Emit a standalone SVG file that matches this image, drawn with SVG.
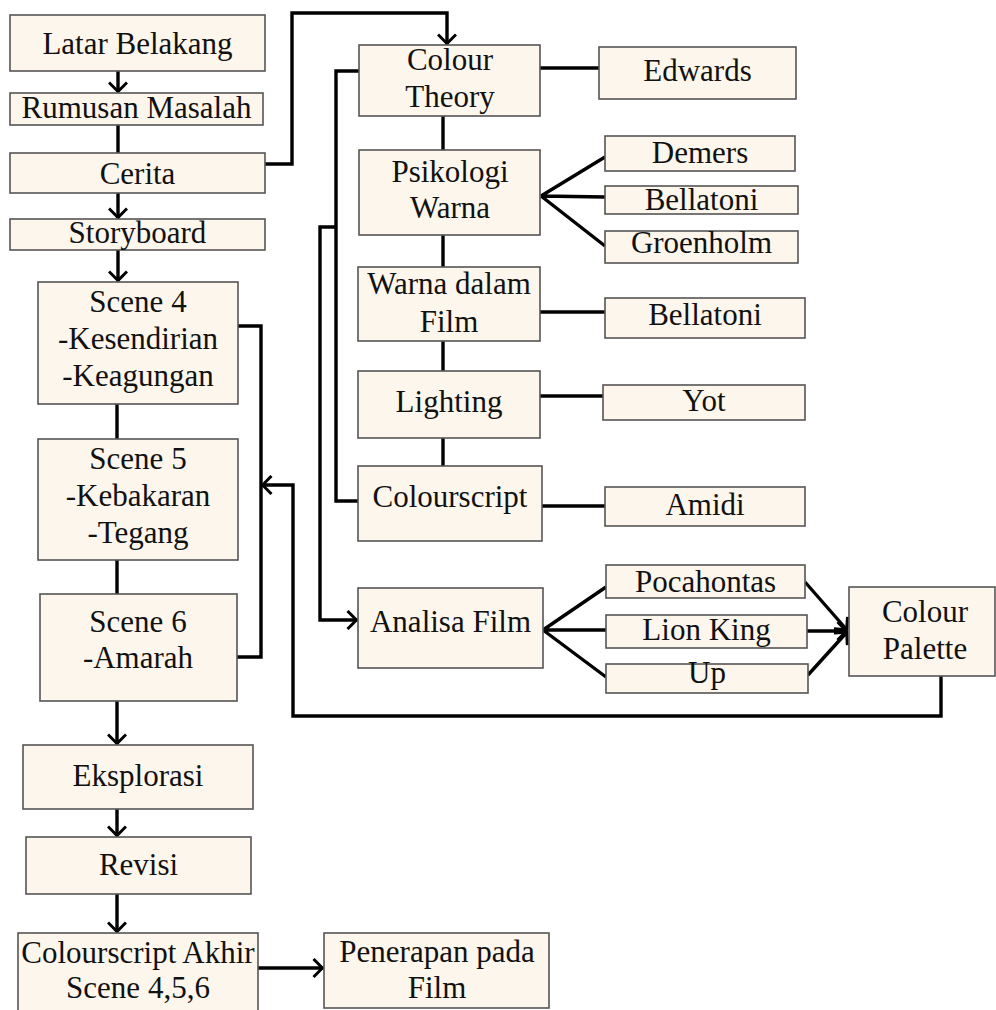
<svg xmlns="http://www.w3.org/2000/svg" width="996" height="1010" viewBox="0 0 996 1010">
<style>
.box{fill:#fdf6ec;stroke:#555;stroke-width:1.6}
.t{font-family:"Liberation Serif","Times New Roman",serif;font-size:31px;fill:#111;text-anchor:middle}
.c{fill:none;stroke:#000;stroke-width:3.4;stroke-linejoin:miter}
.a{marker-end:url(#arr)}
</style>
<defs>
<marker id="arr" viewBox="0 0 12 20" refX="11" refY="10" markerWidth="12" markerHeight="20" markerUnits="userSpaceOnUse" orient="auto">
<path d="M1.5,1 L10.5,10 L1.5,19" fill="none" stroke="#000" stroke-width="3"/>
</marker>
</defs>
<rect width="996" height="1010" fill="#fff"/>
<g id="connectors">
<path class="c a" d="M118,71 V92"/>
<path class="c" d="M118,125 V153"/>
<path class="c a" d="M118,193 V218"/>
<path class="c a" d="M118,250 V281"/>
<path class="c" d="M117,404 V439"/>
<path class="c" d="M117,560 V594"/>
<path class="c a" d="M117,701 V744"/>
<path class="c a" d="M117,809 V836"/>
<path class="c a" d="M117,894 V932"/>
<path class="c a" d="M258,968 H323"/>
<path class="c a" d="M265,164 H292 V13 H447 V44"/>
<path class="c" d="M540,68 H599"/>
<path class="c" d="M443,116 V150"/>
<path class="c" d="M541,196 L605,157 M541,196 L605,197 M541,196 L605,246"/>
<path class="c" d="M443,235 V267"/>
<path class="c" d="M540,312 H605"/>
<path class="c" d="M443,341 V371"/>
<path class="c" d="M540,396 H603"/>
<path class="c" d="M443,438 V466"/>
<path class="c" d="M542,506 H605"/>
<path class="c" d="M359,71 H336 V501 H358"/>
<path class="c a" d="M336,227 H320 V620 H357"/>
<path class="c" d="M543,630 L606,587 M543,630 L606,630 M543,630 L606,677"/>
<path class="c a" d="M805,582 L847,630"/>
<path class="c a" d="M807,631 H847"/>
<path class="c a" d="M808,675 L847,632"/>
<path class="c" d="M238,326 H261 V657 H237"/>
<path class="c a" d="M941,676 V716 H293 V485 H262"/>
</g>
<g id="latar-belakang"><rect class="box" x="10" y="15" width="255" height="56"/><text class="t" x="137.5" y="54">Latar Belakang</text></g>
<g id="rumusan-masalah"><rect class="box" x="10" y="93" width="253" height="32"/><text class="t" x="136.5" y="118">Rumusan Masalah</text></g>
<g id="cerita"><rect class="box" x="10" y="153" width="255" height="40"/><text class="t" x="137.5" y="184">Cerita</text></g>
<g id="storyboard"><rect class="box" x="10" y="219" width="255" height="31"/><text class="t" x="137.5" y="243">Storyboard</text></g>
<g id="scene4"><rect class="box" x="38" y="282" width="200" height="122"/><text class="t" x="138" y="312">Scene 4</text><text class="t" x="138" y="349">-Kesendirian</text><text class="t" x="138" y="386">-Keagungan</text></g>
<g id="scene5"><rect class="box" x="38" y="439" width="200" height="121"/><text class="t" x="138" y="469">Scene 5</text><text class="t" x="138" y="506">-Kebakaran</text><text class="t" x="138" y="543">-Tegang</text></g>
<g id="scene6"><rect class="box" x="40" y="594" width="197" height="107"/><text class="t" x="138" y="632">Scene 6</text><text class="t" x="138" y="668">-Amarah</text></g>
<g id="eksplorasi"><rect class="box" x="23" y="745" width="230" height="64"/><text class="t" x="138" y="786">Eksplorasi</text></g>
<g id="revisi"><rect class="box" x="26" y="837" width="225" height="57"/><text class="t" x="138.5" y="875">Revisi</text></g>
<g id="colourscript-akhir"><rect class="box" x="18" y="933" width="240" height="90"/><text class="t" x="138" y="963">Colourscript Akhir</text><text class="t" x="138" y="998">Scene 4,5,6</text></g>
<g id="penerapan"><rect class="box" x="324" y="933" width="225" height="75"/><text class="t" x="437" y="962">Penerapan pada</text><text class="t" x="437" y="998">Film</text></g>
<g id="colour-theory"><rect class="box" x="359" y="45" width="181" height="71"/><text class="t" x="450" y="70">Colour</text><text class="t" x="450" y="107">Theory</text></g>
<g id="edwards"><rect class="box" x="599" y="47" width="197" height="52"/><text class="t" x="697.5" y="81">Edwards</text></g>
<g id="psikologi-warna"><rect class="box" x="359" y="150" width="181" height="85"/><text class="t" x="450" y="182">Psikologi</text><text class="t" x="450" y="218">Warna</text></g>
<g id="demers"><rect class="box" x="605" y="136" width="190" height="35"/><text class="t" x="700" y="163">Demers</text></g>
<g id="bellatoni-1"><rect class="box" x="605" y="186" width="193" height="28"/><text class="t" x="701.5" y="210">Bellatoni</text></g>
<g id="groenholm"><rect class="box" x="605" y="231" width="193" height="32"/><text class="t" x="701.5" y="253">Groenholm</text></g>
<g id="warna-dalam-film"><rect class="box" x="358" y="267" width="182" height="74"/><text class="t" x="449" y="294">Warna dalam</text><text class="t" x="449" y="332">Film</text></g>
<g id="bellatoni-2"><rect class="box" x="605" y="298" width="200" height="40"/><text class="t" x="705" y="325">Bellatoni</text></g>
<g id="lighting"><rect class="box" x="358" y="371" width="182" height="67"/><text class="t" x="449" y="412">Lighting</text></g>
<g id="yot"><rect class="box" x="603" y="385" width="202" height="35"/><text class="t" x="704" y="411">Yot</text></g>
<g id="colourscript"><rect class="box" x="358" y="466" width="184" height="75"/><text class="t" x="450" y="507">Colourscript</text></g>
<g id="amidi"><rect class="box" x="605" y="487" width="200" height="39"/><text class="t" x="705" y="515">Amidi</text></g>
<g id="analisa-film"><rect class="box" x="358" y="588" width="185" height="80"/><text class="t" x="450.5" y="632">Analisa Film</text></g>
<g id="pocahontas"><rect class="box" x="606" y="565" width="199" height="33"/><text class="t" x="705.5" y="592">Pocahontas</text></g>
<g id="lion-king"><rect class="box" x="606" y="615" width="201" height="33"/><text class="t" x="706.5" y="640">Lion King</text></g>
<g id="up"><rect class="box" x="606" y="664" width="202" height="29"/><text class="t" x="707" y="683">Up</text></g>
<g id="colour-palette"><rect class="box" x="849" y="587" width="146" height="89"/><text class="t" x="925" y="622">Colour</text><text class="t" x="925" y="659">Palette</text></g>
</svg>
